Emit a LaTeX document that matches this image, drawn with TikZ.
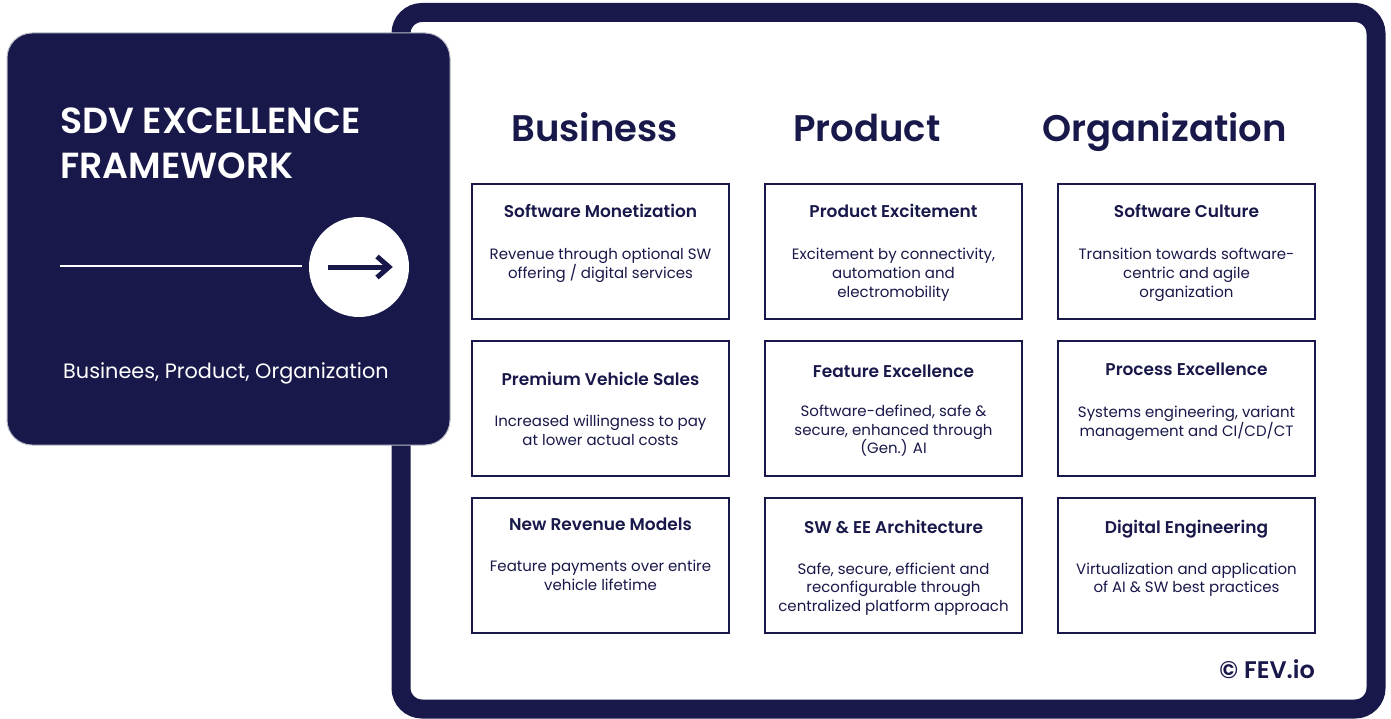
\documentclass[tikz,border=0pt]{standalone}
\usepackage{fontspec}
\setmainfont{Poppins}
\newfontfamily\psemi{Poppins}[UprightFont=* SemiBold]
\definecolor{navy}{HTML}{18184A}
\newcommand\desclines[1]{\vtop{\baselineskip=18.5pt\halign{\hfil##\hfil\cr#1\crcr}}}
\begin{document}
\begin{tikzpicture}[x=1pt,y=-1pt,
  card/.style={draw=navy, line width=2pt, minimum width=257pt, minimum height=135pt, inner sep=0pt},
  cardtitle/.style={font=\psemi\fontsize{17}{20}\selectfont, text=navy, inner sep=0pt, anchor=base},
  carddesc/.style={font=\fontsize{15}{18.5}\selectfont, text=navy, inner sep=0pt, anchor=base},
  heading/.style={font=\psemi\fontsize{37}{42}\selectfont, text=navy, inner sep=0pt, anchor=base},
  bigtitle/.style={font=\psemi\fontsize{36.3}{45}\selectfont, text=white, inner sep=0pt, anchor=base west}]
\useasboundingbox (0,0) rectangle (1391,719);
\fill[white] (0,0) rectangle (1391,719);
% outer frame
\draw[navy, line width=19pt, rounded corners=21pt] (401,12.5) rectangle (1376,709);
% left panel
\path[fill=navy, draw=white!70!navy, line width=1pt, rounded corners=25pt] (7,33) rectangle (450,445);
\node[bigtitle] (t1) at (60,134) {SDV EXCELLENCE};
\node[bigtitle] (t2) at (60,179) {FRAMEWORK};
\node[circle, fill=white, minimum size=100pt, inner sep=0pt] (circ) at (359,267) {};
\coordinate (lstart) at (60,266);
\draw[white, line width=1.2pt] (lstart) -- (302,266);
\draw[navy, line width=5pt] (328,267) -- (387,267);
\draw[navy, line width=5pt, miter limit=10] (377,256.5) -- (389,267) -- (377,277.5);
\node[font=\fontsize{20.8}{24}\selectfont, text=white, inner sep=0pt, anchor=base west] (sub) at (63,378) {Businees, Product, Organization};
% headings
\node[heading] (hb) at (594.5,142) {Business};
\node[heading] (hp) at (867,142) {Product};
\node[heading] (ho) at (1164.5,142) {Organization};
% cards
\node[card] (c11) at (600.5,251.5) {};
\node[card] (c21) at (893.5,251.5) {};
\node[card] (c31) at (1186.5,251.5) {};
\node[card] (c12) at (600.5,408.5) {};
\node[card] (c22) at (893.5,408.5) {};
\node[card] (c32) at (1186.5,408.5) {};
\node[card] (c13) at (600.5,565.5) {};
\node[card] (c23) at (893.5,565.5) {};
\node[card] (c33) at (1186.5,565.5) {};
% row 1
\node[cardtitle] (c11t) at (600.5,218) {Software Monetization};
\node[carddesc] (c11d) at (600.5,260) {\desclines{Revenue through optional SW\cr offering / digital services}};
\node[cardtitle] (c21t) at (893.5,218) {Product Excitement};
\node[carddesc] (c21d) at (893.5,260) {\desclines{Excitement by connectivity,\cr automation and\cr electromobility}};
\node[cardtitle] (c31t) at (1186.5,218) {Software Culture};
\node[carddesc] (c31d) at (1186.5,260) {\desclines{Transition towards software-\cr centric and agile\cr organization}};
% row 2
\node[cardtitle] (c12t) at (600.5,385) {Premium Vehicle Sales};
\node[carddesc] (c12d) at (600.5,426.5) {\desclines{Increased willingness to pay\cr at lower actual costs}};
\node[cardtitle] (c22t) at (893.5,377.5) {Feature Excellence};
\node[carddesc] (c22d) at (893.5,416.5) {\desclines{Software-defined, safe \&\cr secure, enhanced through\cr (Gen.) AI}};
\node[cardtitle] (c32t) at (1186.5,375) {Process Excellence};
\node[carddesc] (c32d) at (1186.5,417.5) {\desclines{Systems engineering, variant\cr management and CI/CD/CT}};
% row 3
\node[cardtitle] (c13t) at (600.5,530.5) {New Revenue Models};
\node[carddesc] (c13d) at (600.5,571.5) {\desclines{Feature payments over entire\cr vehicle lifetime}};
\node[cardtitle] (c23t) at (893.5,533) {SW \& EE Architecture};
\node[carddesc] (c23d) at (893.5,574) {\desclines{Safe, secure, efficient and\cr reconfigurable through\cr centralized platform approach}};
\node[cardtitle] (c33t) at (1186.5,533) {Digital Engineering};
\node[carddesc] (c33d) at (1186.5,574) {\desclines{Virtualization and application\cr of AI \& SW best practices}};
% copyright
\node[font=\psemi\fontsize{24}{28}\selectfont, text=navy, inner sep=0pt, anchor=base east] (copy) at (1315,678) {© FEV.io};
\end{tikzpicture}
\end{document}
